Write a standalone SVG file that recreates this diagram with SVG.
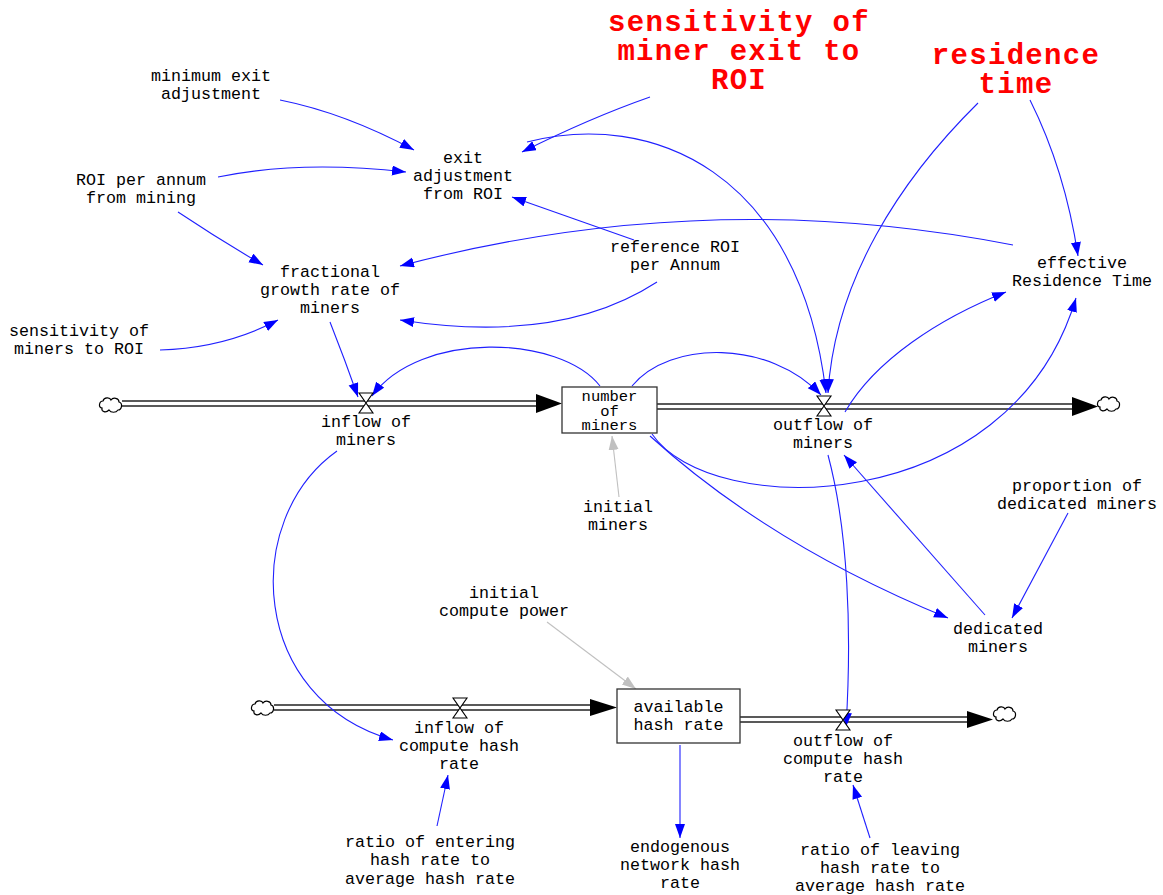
<svg xmlns="http://www.w3.org/2000/svg" width="1163" height="895" viewBox="0 0 1163 895">
<style>
.t{font-family:"Liberation Mono","Courier New",monospace;font-size:16.7px;fill:#000;text-anchor:middle}
.b{font-family:"Liberation Mono","Courier New",monospace;font-size:15.5px;fill:#000;text-anchor:middle}
.r{font-family:"Liberation Mono","Courier New",monospace;font-weight:bold;font-size:29px;letter-spacing:1.3px;fill:#ff0000;text-anchor:middle}
.c{fill:none;stroke:#2020ff;stroke-width:1.1}
.g{fill:none;stroke:#c0c0c0;stroke-width:1.1}
.p{stroke:#222;stroke-width:1.6;fill:none}
.box{fill:#fff;stroke:#333;stroke-width:1.3}
.v{fill:#fff;stroke:#000;stroke-width:1.1}
.cl{fill:#fff;stroke:#000;stroke-width:1.2}
</style>
<defs>
<marker id="a" markerUnits="userSpaceOnUse" markerWidth="15" markerHeight="11" refX="14" refY="5" orient="auto"><path d="M0,0 L14,5 L0,10 Z" fill="#0000ff"/></marker>
<marker id="ag" markerUnits="userSpaceOnUse" markerWidth="15" markerHeight="11" refX="14" refY="5" orient="auto"><path d="M0,0 L14,5 L0,10 Z" fill="#c0c0c0"/></marker>
<path id="cloud" d="M-9,3 C-13,3 -12,-4 -8,-4 C-7,-8 -1,-8 0,-5 C2,-8 8,-7 8,-3 C12,-2 11,5 7,5 C5,8 0,8 -2,5 C-5,8 -10,7 -9,3 Z"/>
<path id="valve" d="M-7,-10 H7 L-7,10 H7 Z"/>
</defs>

<g id="flows">
<line class="p" x1="122" y1="401" x2="540" y2="401"/><line class="p" x1="122" y1="406" x2="540" y2="406"/>
<polygon points="536,394 562,403.5 536,413" fill="#000"/>
<line class="p" x1="657" y1="404" x2="1075" y2="404"/><line class="p" x1="657" y1="409" x2="1075" y2="409"/>
<polygon points="1072,397 1098,406.5 1072,416" fill="#000"/>
<line class="p" x1="274" y1="705" x2="593" y2="705"/><line class="p" x1="274" y1="710" x2="593" y2="710"/>
<polygon points="590,699 617,707.5 590,716" fill="#000"/>
<line class="p" x1="740" y1="717" x2="970" y2="717"/><line class="p" x1="740" y1="722" x2="970" y2="722"/>
<polygon points="967,711 993,719.5 967,728" fill="#000"/>
<use href="#cloud" class="cl" transform="translate(111,405)"/>
<use href="#cloud" class="cl" transform="translate(1109,404)"/>
<use href="#cloud" class="cl" transform="translate(263,708)"/>
<use href="#cloud" class="cl" transform="translate(1005,714)"/>
</g>

<g id="connectors">
<path class="c" marker-end="url(#a)" d="M280,100 Q345,113 414,150"/>
<path class="c" marker-end="url(#a)" d="M218,177 Q300,160 406,172"/>
<path class="c" marker-end="url(#a)" d="M178,212 Q220,240 263,265"/>
<path class="c" marker-end="url(#a)" d="M160,350 Q225,348 278,320"/>
<path class="c" marker-end="url(#a)" d="M650,97 Q590,118 522,152"/>
<path class="c" marker-end="url(#a)" d="M634,240 L512,197"/>
<path class="c" marker-end="url(#a)" d="M657,282 Q560,345 400,320"/>
<path class="c" marker-end="url(#a)" d="M1013,245 Q705,185 400,266"/>
<path class="c" marker-end="url(#a)" d="M527,142 C650,110 800,170 826,393"/>
<path class="c" marker-end="url(#a)" d="M978,103 C900,180 835,280 828,393"/>
<path class="c" marker-end="url(#a)" d="M1030,100 Q1065,170 1078,256"/>
<path class="c" marker-end="url(#a)" d="M600,386 C560,335 420,330 372,396"/>
<path class="c" marker-end="url(#a)" d="M330,322 Q345,360 358,397"/>
<path class="c" marker-end="url(#a)" d="M632,386 C670,340 770,340 821,395"/>
<path class="c" marker-end="url(#a)" d="M845,412 C875,360 940,318 1006,292"/>
<path class="c" marker-end="url(#a)" d="M652,434 C710,520 1010,520 1076,298"/>
<path class="c" marker-end="url(#a)" d="M650,436 Q770,545 948,618"/>
<path class="c" marker-end="url(#a)" d="M985,615 L844,455"/>
<path class="c" marker-end="url(#a)" d="M1068,513 L1012,618"/>
<path class="c" marker-end="url(#a)" d="M828,455 C848,530 852,630 846,727"/>
<path class="c" marker-end="url(#a)" d="M337,451 C240,520 250,700 393,740"/>
<path class="g" marker-end="url(#ag)" d="M619,497 L612,436"/>
<path class="g" marker-end="url(#ag)" d="M547,622 L636,689"/>
<path class="c" marker-end="url(#a)" d="M680,745 L680,838"/>
<path class="c" marker-end="url(#a)" d="M437,826 L448,775"/>
<path class="c" marker-end="url(#a)" d="M870,838 L853,785"/>
</g>

<g id="number_of_miners"><rect class="box" x="562" y="387" width="95" height="46"/>
<text class="b" x="609.5" y="401">number</text><text class="b" x="609.5" y="416">of</text><text class="b" x="609.5" y="430">miners</text></g>
<g id="available_hash_rate"><rect class="box" x="617" y="689" width="123" height="54"/>
<text class="t" x="678.5" y="712">available</text><text class="t" x="678.5" y="730">hash rate</text></g>

<g id="inflow_of_miners"><use href="#valve" class="v" transform="translate(366,403)"/>
<text class="t" x="366" y="427">inflow of</text><text class="t" x="366" y="445">miners</text></g>
<g id="outflow_of_miners"><use href="#valve" class="v" transform="translate(824,406)"/>
<text class="t" x="823" y="430">outflow of</text><text class="t" x="823" y="448">miners</text></g>
<g id="inflow_of_compute_hash_rate"><use href="#valve" class="v" transform="translate(460,708)"/>
<text class="t" x="459" y="733">inflow of</text><text class="t" x="459" y="751">compute hash</text><text class="t" x="459" y="769">rate</text></g>
<g id="outflow_of_compute_hash_rate"><use href="#valve" class="v" transform="translate(843,720)"/>
<text class="t" x="843" y="746">outflow of</text><text class="t" x="843" y="764">compute hash</text><text class="t" x="843" y="782">rate</text></g>

<g id="minimum_exit_adjustment"><text class="t" x="211" y="81">minimum exit</text><text class="t" x="211" y="99">adjustment</text></g>
<g id="exit_adjustment_from_ROI"><text class="t" x="463" y="163">exit</text><text class="t" x="463" y="181">adjustment</text><text class="t" x="463" y="199">from ROI</text></g>
<g id="ROI_per_annum_from_mining"><text class="t" x="141" y="185">ROI per annum</text><text class="t" x="141" y="203">from mining</text></g>
<g id="fractional_growth_rate_of_miners"><text class="t" x="330" y="277">fractional</text><text class="t" x="330" y="295">growth rate of</text><text class="t" x="330" y="313">miners</text></g>
<g id="sensitivity_of_miners_to_ROI"><text class="t" x="79" y="336">sensitivity of</text><text class="t" x="79" y="354">miners to ROI</text></g>
<g id="reference_ROI_per_Annum"><text class="t" x="675" y="252">reference ROI</text><text class="t" x="675" y="270">per Annum</text></g>
<g id="effective_Residence_Time"><text class="t" x="1082" y="268">effective</text><text class="t" x="1082" y="286">Residence Time</text></g>
<g id="sensitivity_of_miner_exit_to_ROI"><text class="r" x="739" y="31">sensitivity of</text><text class="r" x="739" y="60">miner exit to</text><text class="r" x="739" y="89">ROI</text></g>
<g id="residence_time"><text class="r" x="1016" y="64">residence</text><text class="r" x="1016" y="93">time</text></g>
<g id="initial_miners"><text class="t" x="618" y="512">initial</text><text class="t" x="618" y="530">miners</text></g>
<g id="proportion_of_dedicated_miners"><text class="t" x="1077" y="491">proportion of</text><text class="t" x="1077" y="509">dedicated miners</text></g>
<g id="dedicated_miners"><text class="t" x="998" y="634">dedicated</text><text class="t" x="998" y="652">miners</text></g>
<g id="initial_compute_power"><text class="t" x="504" y="598">initial</text><text class="t" x="504" y="616">compute power</text></g>
<g id="ratio_of_entering_hash_rate"><text class="t" x="430" y="847">ratio of entering</text><text class="t" x="430" y="865">hash rate to</text><text class="t" x="430" y="884">average hash rate</text></g>
<g id="endogenous_network_hash_rate"><text class="t" x="680" y="852">endogenous</text><text class="t" x="680" y="870">network hash</text><text class="t" x="680" y="888">rate</text></g>
<g id="ratio_of_leaving_hash_rate"><text class="t" x="880" y="855">ratio of leaving</text><text class="t" x="880" y="873">hash rate to</text><text class="t" x="880" y="891">average hash rate</text></g>
</svg>
